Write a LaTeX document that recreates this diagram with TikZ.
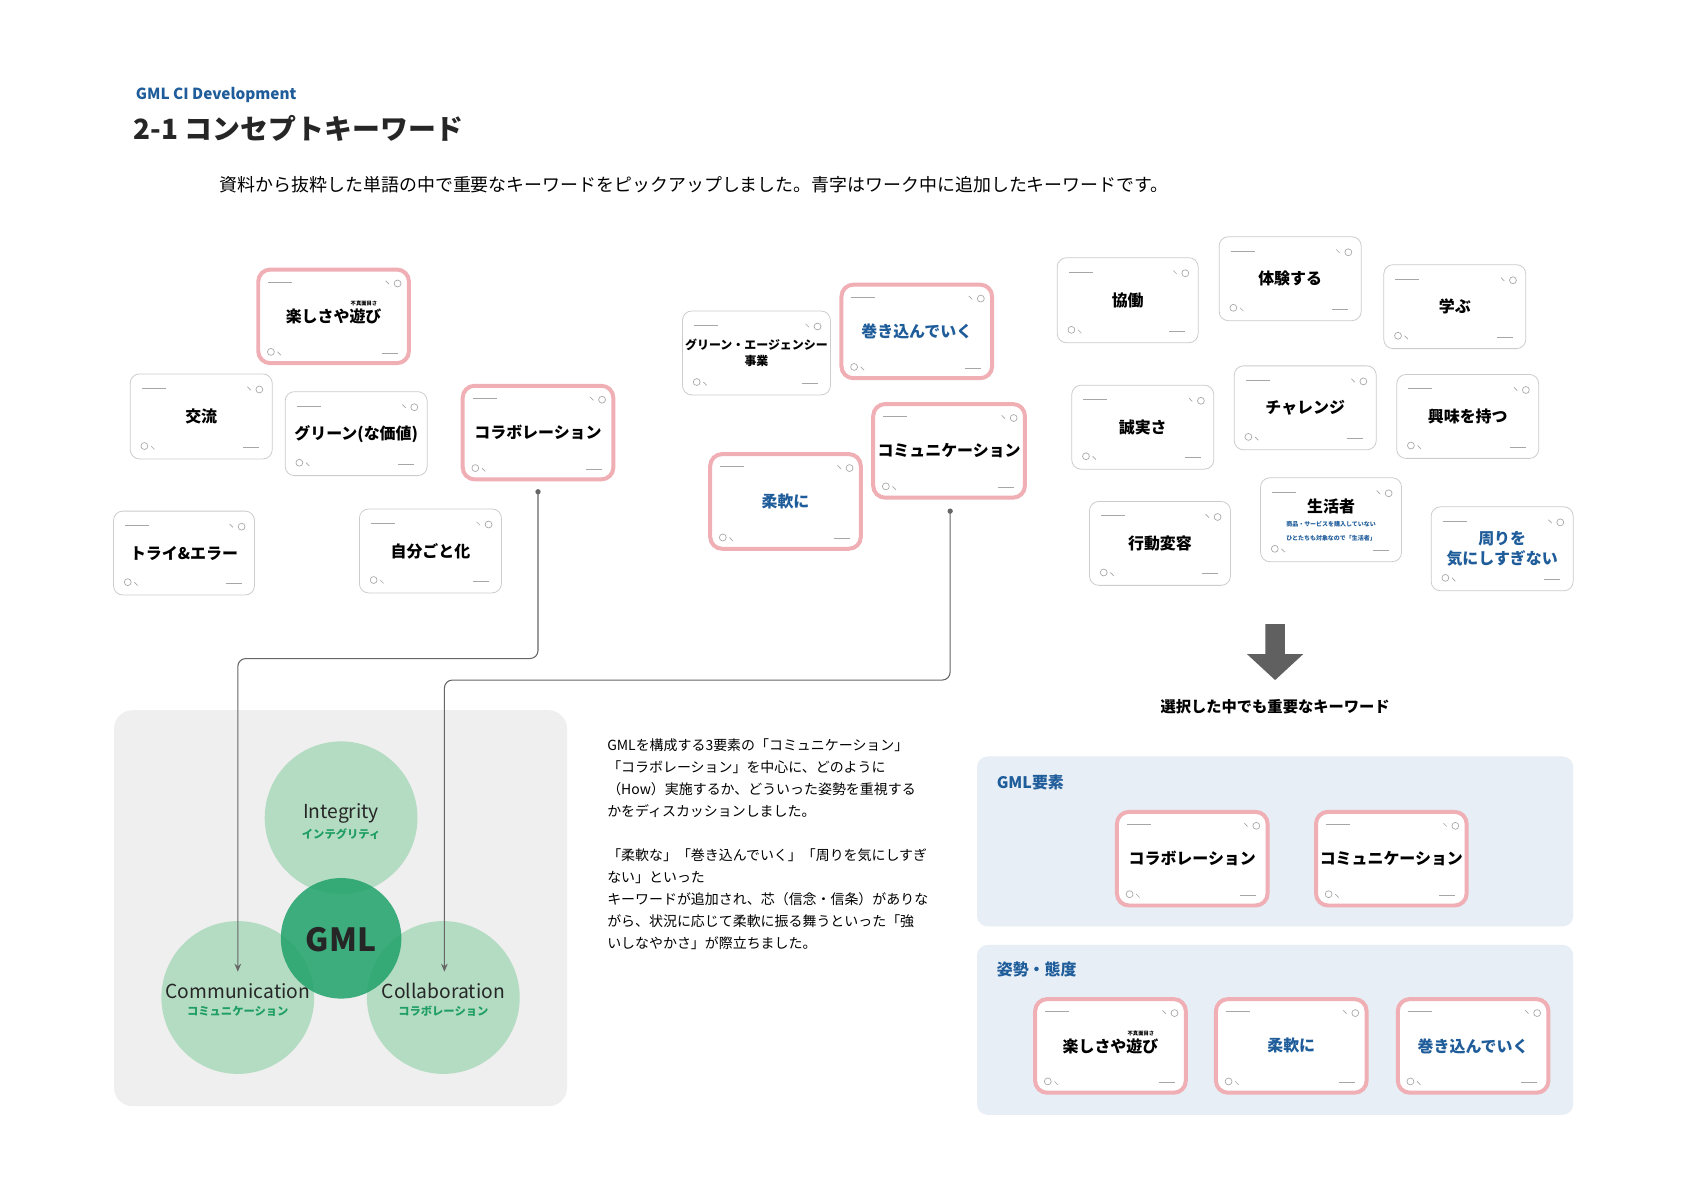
\documentclass[tikz,border=0pt]{standalone}
\usepackage{fontspec}
\setmainfont{Noto Sans CJK JP}
\usetikzlibrary{calc,arrows.meta}
\definecolor{pinkb}{HTML}{EFAFB4}
\definecolor{blueT}{HTML}{1F5C9A}
\definecolor{panelB}{HTML}{E7EEF6}
\definecolor{panelG}{HTML}{EFEFEF}
\definecolor{lg}{HTML}{B4DCC3}
\definecolor{dg}{HTML}{1FA26A}
\definecolor{gtxt}{HTML}{1E9E62}
\tikzset{
 card/.style={draw=gray!40,line width=0.6pt,fill=white,rounded corners=7pt,align=center,font=\bfseries\fontsize{12}{14}\selectfont,inner sep=2pt},
 pk/.style={draw=pinkb,line width=3pt,rounded corners=9pt},
 bl/.style={text=blueT},
 deco/.style={draw=gray!70,line width=0.5pt},
 conn/.style={draw=gray!80!black,line width=0.8pt,rounded corners=6pt},
 ven/.style={circle,fill=lg,minimum size=142*0.81pt,inner sep=0pt},
 vl/.style={font=\fontsize{14.5}{16}\selectfont,text=black!85},
 vs/.style={font=\bfseries\fontsize{8.5}{10}\selectfont,text=gtxt},
 plab/.style={anchor=west,text=blueT,font=\bfseries\fontsize{12}{14}\selectfont},
}
\newcommand\kcard[7]{%
 \node[card,#6,minimum width=#4*0.81pt,minimum height=#5*0.81pt] (#1) at (#2,#3) {#7};
 \draw[deco] ([shift={(9pt,-11pt)}]#1.north west) -- ++(18pt,0);
 \draw[deco] ([shift={(-10pt,-12pt)}]#1.north east) circle (2.6pt);
 \draw[deco] ([shift={(-19pt,-10pt)}]#1.north east) -- ++(2.5pt,-2.5pt);
 \draw[deco] ([shift={(11pt,10pt)}]#1.south west) circle (2.6pt);
 \draw[deco] ([shift={(16pt,10pt)}]#1.south west) -- ++(2.5pt,-2.5pt);
 \draw[deco] ([shift={(-22pt,9pt)}]#1.south east) -- ++(12pt,0);
}
\newcommand\ruby{楽しさや\makebox[0pt][l]{\raisebox{1.05em}[0pt][0pt]{\fontsize{4}{4}\selectfont\ 不真面目さ}}遊び}
\begin{document}
\begin{tikzpicture}[x=0.81pt,y=-0.81pt]
\useasboundingbox[fill=white] (0,0) rectangle (1565,1106);
% header
\node[anchor=west,text=blueT,font=\bfseries\fontsize{11.5}{13}\selectfont] (h1) at (122,88) {GML CI Development};
\node[anchor=west,font=\bfseries\fontsize{21}{24}\selectfont,text=black!85] (h2) at (120,119) {2-1 コンセプトキーワード};
\node[anchor=west,font=\fontsize{13.5}{16}\selectfont] (h3) at (200,172) {資料から抜粋した単語の中で重要なキーワードをピックアップしました。青字はワーク中に追加したキーワードです。};
% panels
\fill[panelG,rounded corners=14pt] (106,660) rectangle (527,1028);
\fill[panelB,rounded corners=8pt] (908,703) rectangle (1462,861);
\fill[panelB,rounded corners=8pt] (908,878) rectangle (1462,1036);
\node[plab] (p1) at (922,727) {GML要素};
\node[plab] (p2) at (922,901) {姿勢・態度};
% cards top
\kcard{c1}{310}{294}{140}{87}{pk}{\ruby}
\kcard{c2}{187}{387}{132}{79}{}{交流}
\kcard{c3}{331}{403}{132}{78}{}{グリーン(な価値)}
\kcard{c4}{500}{402}{140}{87}{pk}{コラボレーション}
\kcard{c5}{171}{514}{131}{78}{}{トライ\&エラー}
\kcard{c6}{400}{512}{132}{78}{}{自分ごと化}
\kcard{c7}{703}{328}{131}{78}{font=\bfseries\fontsize{9}{12}\selectfont}{グリーン・エージェンシー\\事業}
\kcard{c8}{852}{308}{140}{87}{pk,bl}{巻き込んでいく}
\kcard{c9}{882}{419}{141}{87}{pk}{コミュニケーション}
\kcard{c10}{730}{466}{140}{88}{pk,bl}{柔軟に}
\kcard{c11}{1048}{279}{131}{79}{}{協働}
\kcard{c12}{1199}{259}{132}{78}{}{体験する}
\kcard{c13}{1352}{285}{132}{78}{}{学ぶ}
\kcard{c14}{1062}{397}{132}{78}{}{誠実さ}
\kcard{c15}{1213}{379}{132}{78}{}{チャレンジ}
\kcard{c16}{1364}{387}{132}{78}{}{興味を持つ}
\kcard{c17}{1078}{505}{131}{78}{}{行動変容}
\kcard{c18}{1237}{483}{131}{78}{}{\raisebox{2pt}{生活者}\\[-5pt]\textcolor{blueT}{\fontsize{4.5}{6}\selectfont 商品・サービスを購入していない}\\[-4pt]\textcolor{blueT}{\fontsize{4.5}{6}\selectfont ひとたちも対象なので「生活者」}}
\kcard{c19}{1396}{510}{132}{78}{bl}{周りを\\[1pt]気にしすぎない}
% bottom cards
\kcard{d1}{1108}{798}{140}{87}{pk}{コラボレーション}
\kcard{d2}{1293}{798}{140}{87}{pk}{コミュニケーション}
\kcard{d3}{1032}{972}{140}{87}{pk}{\ruby}
\kcard{d4}{1200}{972}{140}{87}{pk,bl}{柔軟に}
\kcard{d5}{1369}{972}{140}{87}{pk,bl}{巻き込んでいく}
% arrow
\fill[gray!75!black] (1176,580) -- (1194,580) -- (1194,608) -- (1211,608) -- (1185,632) -- (1159,608) -- (1176,608) -- cycle;
\node[font=\bfseries\fontsize{11.5}{13}\selectfont] (sel) at (1185,657) {選択した中でも重要なキーワード};
% venn
\node[ven] (vi) at (317,760) {};
\node[ven] (vc) at (221,927) {};
\node[ven] (vo) at (412,927) {};
\node[circle,fill=dg,fill opacity=0.85,minimum size=112*0.81pt,inner sep=0pt] (vg) at (317,872) {};
\node[font=\bfseries\fontsize{24}{26}\selectfont,text=black!85] (gml) at (317,873) {GML};
\node[vl] (ti) at (317,756) {Integrity};
\node[vs] (tis) at (317,775) {インテグリティ};
\node[vl] (tc) at (221,921) {Communication};
\node[vs] (tcs) at (221,940) {コミュニケーション};
\node[vl] (to) at (412,921) {Collaboration};
\node[vs] (tos) at (412,940) {コラボレーション};
% connectors
\coordinate (k1) at (500,457);
\coordinate (k2) at (883,475);
\coordinate (e1) at (221,903);
\coordinate (e2) at (413,903);
\fill[gray!80!black] (k1) circle (2pt) (k2) circle (2pt);
\draw[conn,-{Stealth[length=6pt,width=5pt]}] (k1) -- (500,612) -- (221,612) -- (e1);
\draw[conn,-{Stealth[length=6pt,width=5pt]}] (k2) -- (883,632) -- (413,632) -- (e2);
% paragraph
\node[anchor=north west,align=left,font=\fontsize{10.5}{16.6}\selectfont] (para) at (560,682) {GMLを構成する3要素の「コミュニケーション」\\「コラボレーション」を中心に、どのように\\（How）実施するか、どういった姿勢を重視する\\かをディスカッションしました。\\[16.6pt]「柔軟な」「巻き込んでいく」「周りを気にしすぎ\\ない」といった\\キーワードが追加され、芯（信念・信条）がありな\\がら、状況に応じて柔軟に振る舞うといった「強\\いしなやかさ」が際立ちました。};
\end{tikzpicture}
\end{document}
